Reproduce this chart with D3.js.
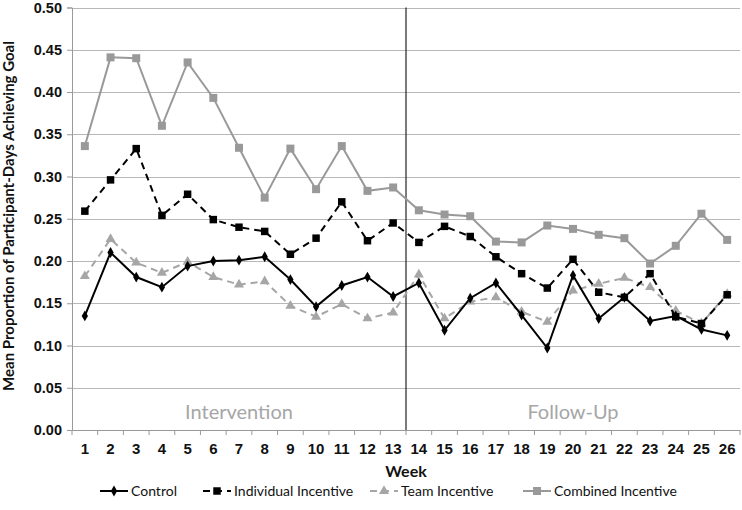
<!DOCTYPE html>
<html><head><meta charset="utf-8">
<script src="https://cdn.jsdelivr.net/npm/d3@7"></script>
<style>body{margin:0;background:#fff}svg{display:block;font-family:Lato,"Open Sans",sans-serif}</style>
</head><body><svg id="c" width="742" height="510"></svg>
<script>
const weeks = d3.range(1, 27).map(String);
const control = [0.135,0.210,0.181,0.169,0.194,0.200,0.201,0.205,0.178,0.146,0.171,0.181,0.158,0.174,0.118,0.156,0.174,0.136,0.097,0.183,0.132,0.157,0.129,0.135,0.119,0.112];
const individual = [0.259,0.296,0.333,0.254,0.279,0.249,0.240,0.235,0.208,0.227,0.270,0.224,0.245,0.222,0.241,0.229,0.205,0.185,0.168,0.202,0.163,0.157,0.185,0.134,0.126,0.160];
const team = [0.182,0.226,0.198,0.186,0.199,0.181,0.172,0.176,0.147,0.134,0.149,0.132,0.139,0.184,0.132,0.152,0.157,0.140,0.128,0.165,0.173,0.180,0.169,0.141,0.126,0.161];
const combined = [0.336,0.441,0.440,0.360,0.435,0.393,0.334,0.275,0.333,0.285,0.336,0.283,0.287,0.260,0.255,0.253,0.223,0.222,0.242,0.238,0.231,0.227,0.197,0.218,0.256,0.225];
const yTicks = [0,0.05,0.10,0.15,0.20,0.25,0.30,0.35,0.40,0.45,0.50];
const seriesNames = ["Control","Individual Incentive","Team Incentive","Combined Incentive"];
const phases = ["Intervention","Follow-Up"];

const svg = d3.select("#c");
const L = 72, R = 740, T = 7.5, B = 430;
const x = d3.scaleBand().domain(weeks).range([L, R]);
const y = d3.scaleLinear().domain([0, 0.5]).range([B, T]);

// gridlines
svg.append("g").selectAll("line").data(yTicks.slice(1)).join("line")
  .attr("x1", L).attr("x2", R).attr("y1", d => Math.round(y(d))+0.5).attr("y2", d => Math.round(y(d))+0.5)
  .attr("stroke", "#b8b8b8").attr("stroke-width", 1);

// y axis
const ya = svg.append("g").attr("transform", `translate(${L},0)`)
  .call(d3.axisLeft(y).tickValues(yTicks).tickFormat(d3.format(".2f")).tickSize(5).tickPadding(5));
ya.select(".domain").attr("stroke", "#999");
ya.selectAll(".tick line").attr("stroke", "#999");
ya.selectAll("text").attr("font-size", 14.5).attr("font-weight", "bold").attr("fill", "#111");

// x axis
const xa = svg.append("g").attr("transform", `translate(0,${B})`)
  .call(d3.axisBottom(x).tickSize(0).tickPadding(13));
xa.select(".domain").attr("stroke", "#999");
xa.selectAll("text").attr("font-size", 15).attr("font-weight", "bold").attr("fill", "#111");
svg.append("g").selectAll("line").data(d3.range(0, weeks.length + 1)).join("line")
  .attr("x1", i => L + i * x.step()).attr("x2", i => L + i * x.step())
  .attr("y1", B).attr("y2", B + 5).attr("stroke", "#999");

// divider
const divX = x("13") + x.bandwidth();
svg.append("line").attr("x1", divX).attr("x2", divX).attr("y1", T).attr("y2", B)
  .attr("stroke", "#333").attr("stroke-width", 1.3);

// phase labels
svg.append("text").attr("x", (L + divX) / 2).attr("y", 419).attr("text-anchor", "middle")
  .attr("font-size", 20).attr("fill", "#a6a6a6").text(phases[0]);
svg.append("text").attr("x", (divX + R) / 2).attr("y", 419).attr("text-anchor", "middle")
  .attr("font-size", 20).attr("fill", "#a6a6a6").text(phases[1]);

// titles
svg.append("text").attr("x", (L + R) / 2).attr("y", 477).attr("text-anchor", "middle")
  .attr("font-size", 16).attr("font-weight", "bold").attr("fill", "#111").text("Week");
svg.append("text").attr("transform", `translate(14,216) rotate(-90)`).attr("text-anchor", "middle")
  .attr("font-size", 15).attr("font-weight", "bold").attr("fill", "#111")
  .text("Mean Proportion of Participant-Days Achieving Goal");

const cx = (d, i) => x(weeks[i]) + x.bandwidth() / 2;
const series = [
  {name: seriesNames[0], data: control, color: "#000", dash: null, sym: d3.symbolDiamond, size: 34},
  {name: seriesNames[1], data: individual, color: "#000", dash: "7,5", sym: d3.symbolSquare, size: 56},
  {name: seriesNames[2], data: team, color: "#a6a6a6", dash: "7,5", sym: d3.symbolTriangle, size: 44},
  {name: seriesNames[3], data: combined, color: "#999999", dash: null, sym: d3.symbolSquare, size: 64}
];
const line = d3.line().x(cx).y(d => y(d));
const order = [3, 2, 1, 0];
order.forEach(k => {
  const s = series[k];
  const g = svg.append("g");
  g.append("path").attr("d", line(s.data)).attr("fill", "none").attr("stroke", s.color)
    .attr("stroke-width", 2).attr("stroke-dasharray", s.dash);
  g.selectAll("path.m").data(s.data).join("path").attr("class", "m")
    .attr("transform", (d, i) => `translate(${cx(d, i)},${y(d)})`)
    .attr("d", d3.symbol(s.sym, s.size)).attr("fill", s.color);
});

// legend
const legX = [100, 203, 370, 523];
series.forEach((s, k) => {
  const g = svg.append("g").attr("transform", `translate(${legX[k]},491)`);
  g.append("line").attr("x1", 0).attr("x2", 28).attr("stroke", s.color).attr("stroke-width", 2)
    .attr("stroke-dasharray", s.dash);
  g.append("path").attr("transform", "translate(14,0)").attr("d", d3.symbol(s.sym, s.size)).attr("fill", s.color);
  g.append("text").attr("x", 31).attr("y", 5).attr("font-size", 14).attr("fill", "#111").text(s.name);
});
</script></body></html>
